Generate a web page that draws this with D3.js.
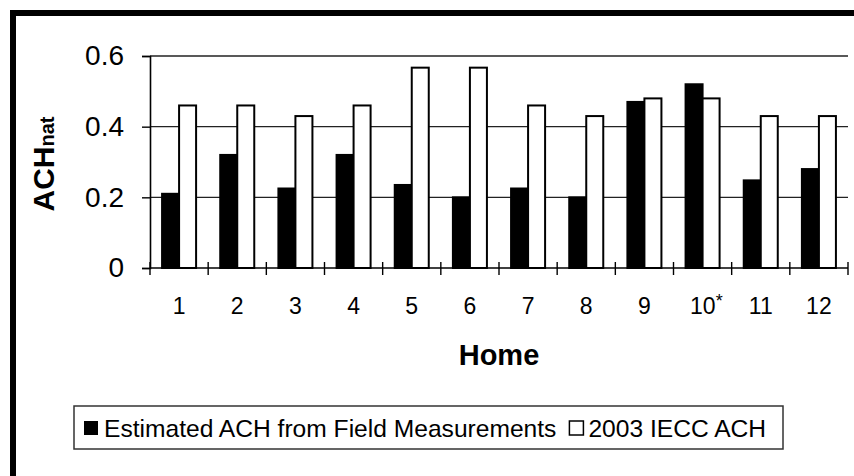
<!DOCTYPE html>
<html>
<head>
<meta charset="utf-8">
<script src="https://cdn.jsdelivr.net/npm/d3@7"></script>
<style>
	body { margin: 0; background: #fff; }
	svg { display: block; font-family: "Liberation Sans", Arial, sans-serif; }
</style>
</head>
<body>
<svg width="854" height="476"></svg>
<script>
// values
const homes = ["1", "2", "3", "4", "5", "6", "7", "8", "9", "10", "11", "12"];
const estimated = [0.21, 0.32, 0.225, 0.32, 0.235, 0.2, 0.225, 0.2, 0.47, 0.52, 0.248, 0.28];
const iecc = [0.46, 0.46, 0.43, 0.46, 0.567, 0.567, 0.46, 0.43, 0.48, 0.48, 0.43, 0.43];
const seriesNames = ["Estimated ACH from Field Measurements", "2003 IECC ACH"];
const yTicks = [0, 0.2, 0.4, 0.6];

const svg = d3.select("svg");

// outer frame (only top and left edges show in the picture)
svg.append("rect")
	.attr("x", 13).attr("y", 13)
	.attr("width", 900).attr("height", 500)
	.attr("fill", "none")
	.attr("stroke", "#000")
	.attr("stroke-width", 6);

const plotLeft = 150, plotRight = 848, plotTop = 56, plotBottom = 268;

const x0 = d3.scaleBand().domain(homes).range([plotLeft, plotRight]);
const x1 = d3.scaleBand()
	.domain(seriesNames)
	.range([0, x0.bandwidth()])
	.paddingOuter(0.71);
const y = d3.scaleLinear().domain([0, 0.6]).range([plotBottom, plotTop]);

// gridlines
svg.append("g")
	.selectAll("line")
	.data(yTicks.filter((d) => d > 0))
	.join("line")
	.attr("x1", plotLeft).attr("x2", plotRight)
	.attr("y1", (d) => y(d)).attr("y2", (d) => y(d))
	.attr("stroke", "#222")
	.attr("stroke-width", 1.4);

// bars
const rows = homes.map((h, i) => ({ home: h, values: [estimated[i], iecc[i]] }));
const groups = svg.append("g")
	.selectAll("g")
	.data(rows)
	.join("g")
	.attr("transform", (d) => "translate(" + x0(d.home) + ",0)");
groups.selectAll("rect")
	.data((d) => d.values.map((v, j) => ({ key: seriesNames[j], value: v })))
	.join("rect")
	.attr("x", (d) => x1(d.key))
	.attr("y", (d) => y(d.value))
	.attr("width", x1.bandwidth())
	.attr("height", (d) => plotBottom - y(d.value))
	.attr("fill", (d, j) => (j === 0 ? "#000" : "#fff"))
	.attr("stroke", "#000")
	.attr("stroke-width", 2);

// y axis
svg.append("g")
	.attr("transform", "translate(" + plotLeft + ",0)")
	.call(d3.axisLeft(y).tickValues(yTicks).tickFormat((d) => (d === 0 ? "0" : d3.format(".1f")(d))).tickSize(8).tickPadding(18))
	.call((g) => g.select(".domain").attr("stroke-width", 1.6))
	.call((g) => g.selectAll(".tick line").attr("stroke-width", 1.4))
	.call((g) => g.selectAll(".tick text")
		.attr("font-size", "28px")
		.attr("font-family", "'Liberation Sans', Arial, sans-serif")
		.attr("fill", "#000"));

// x axis: cross ticks at category boundaries
const xAxis = svg.append("g");
xAxis.append("line")
	.attr("x1", plotLeft).attr("x2", plotRight)
	.attr("y1", plotBottom).attr("y2", plotBottom)
	.attr("stroke", "#000")
	.attr("stroke-width", 1.6);
const edges = homes.map((h) => x0(h)).concat([x0(homes[homes.length - 1]) + x0.bandwidth()]);
xAxis.selectAll(".xt")
	.data(edges)
	.join("line")
	.attr("class", "xt")
	.attr("x1", (d) => d).attr("x2", (d) => d)
	.attr("y1", plotBottom - 6).attr("y2", plotBottom + 7)
	.attr("stroke", "#000")
	.attr("stroke-width", 1.4);
const xl = xAxis.selectAll(".xl")
	.data(homes)
	.join("text")
	.attr("class", "xl")
	.attr("x", (d) => x0(d) + x0.bandwidth() / 2)
	.attr("y", 314)
	.attr("font-size", "23px")
	.attr("text-anchor", "middle")
	.text((d) => d);
// asterisk on home 10
xl.filter((d) => d === "10")
	.attr("text-anchor", null)
	.attr("x", (d) => x0(d) + x0.bandwidth() / 2 - 12.5)
	.append("tspan")
	.attr("font-size", "18px")
	.attr("dy", -7)
	.text("*");

// axis titles
svg.append("text")
	.attr("x", 499)
	.attr("y", 365)
	.attr("text-anchor", "middle")
	.attr("font-size", "29px")
	.attr("font-weight", "bold")
	.text("Home");

const yt = svg.append("text")
	.attr("transform", "translate(54,164) rotate(-90)")
	.attr("text-anchor", "middle")
	.attr("font-size", "30px")
	.attr("font-weight", "bold");
yt.append("tspan").text("ACH");
yt.append("tspan").attr("font-size", "20px").text("nat");

// legend
const legend = svg.append("g");
legend.append("rect")
	.attr("x", 74).attr("y", 406)
	.attr("width", 709).attr("height", 43)
	.attr("fill", "#fff")
	.attr("stroke", "#333")
	.attr("stroke-width", 1.5);
legend.append("rect")
	.attr("x", 84).attr("y", 421)
	.attr("width", 14).attr("height", 14)
	.attr("fill", "#000");
const t1 = legend.append("text")
	.attr("x", 104).attr("y", 437)
	.attr("font-size", "24.6px")
	.text(seriesNames[0]);
const end1 = 104 + t1.node().getComputedTextLength();
legend.append("rect")
	.attr("x", end1 + 13).attr("y", 421)
	.attr("width", 14).attr("height", 14)
	.attr("fill", "#fff")
	.attr("stroke", "#000")
	.attr("stroke-width", 1.5);
legend.append("text")
	.attr("x", end1 + 32).attr("y", 437)
	.attr("font-size", "24.6px")
	.text(seriesNames[1]);
</script>
</body>
</html>
